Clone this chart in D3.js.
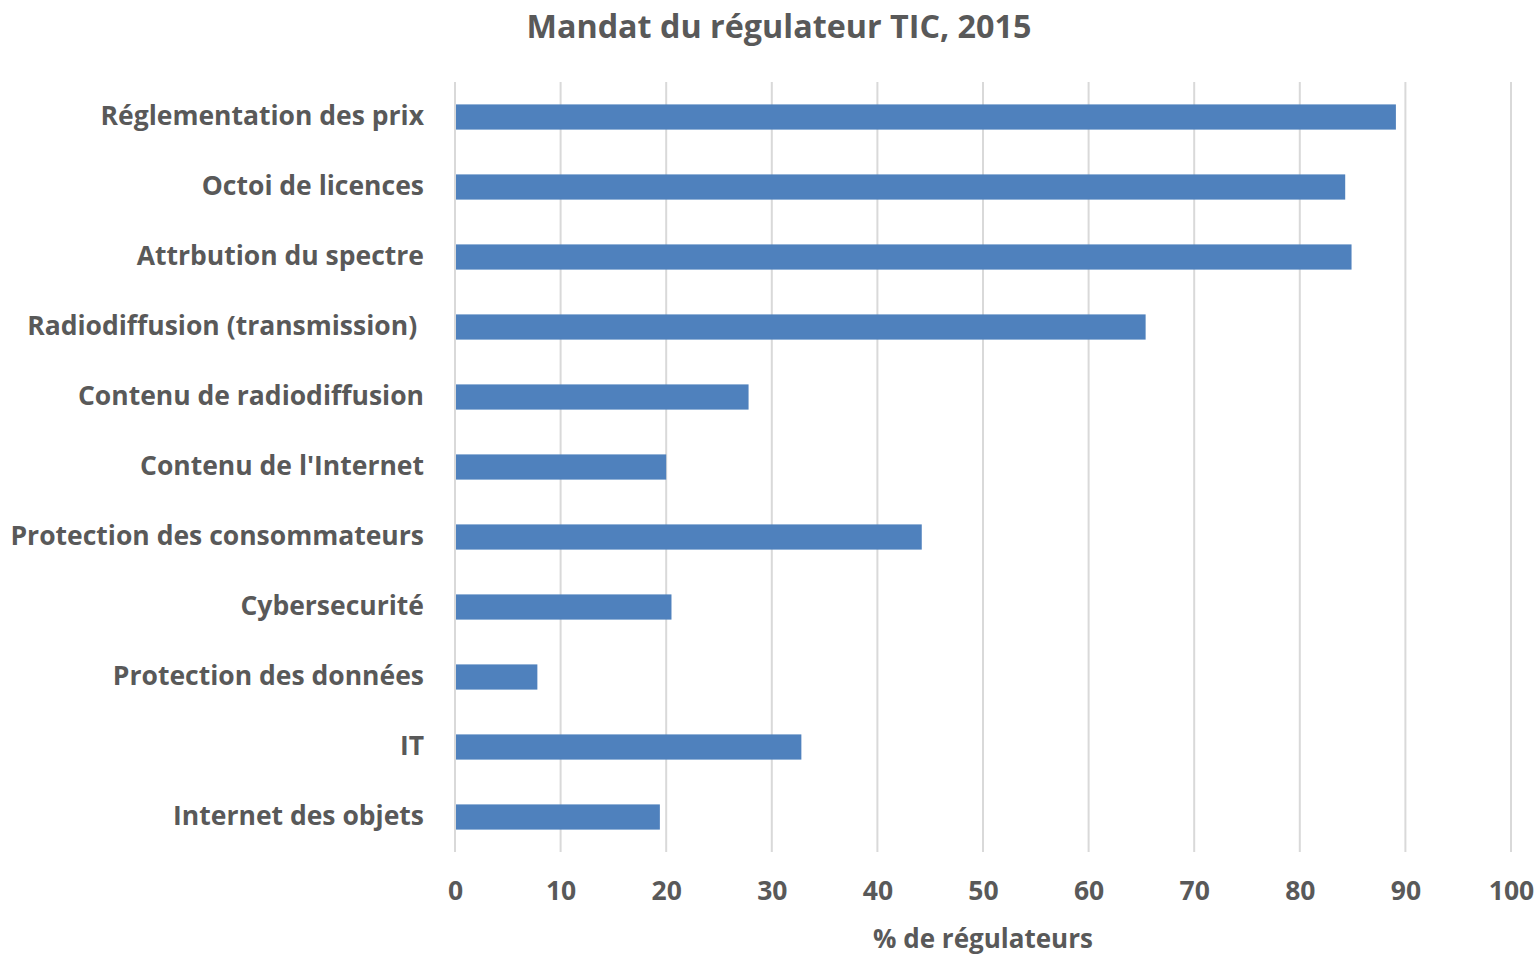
<!DOCTYPE html>
<html>
<head>
<meta charset="utf-8">
<script src="https://cdn.jsdelivr.net/npm/d3@7"></script>
<style>
  body { margin: 0; background: #fff; }
  text { font-family: "Open Sans", "Noto Sans", sans-serif; font-weight: bold; fill: #595959; white-space: pre; }
</style>
</head>
<body>
<div id="chart"></div>
<script>
// data
var categories = [
  "Réglementation des prix",
  "Octoi de licences",
  "Attrbution du spectre",
  "Radiodiffusion (transmission) ",
  "Contenu de radiodiffusion",
  "Contenu de l'Internet",
  "Protection des consommateurs",
  "Cybersecurité",
  "Protection des données",
  "IT",
  "Internet des objets"
];
var values = [89.1, 84.3, 84.9, 65.4, 27.8, 20.0, 44.2, 20.5, 7.8, 32.8, 19.4];
var xTicks = [0, 10, 20, 30, 40, 50, 60, 70, 80, 90, 100];

var svgWidth = 1539, svgHeight = 954;
var margin = { top: 82, right: 28, bottom: 102, left: 455 };
var width = svgWidth - margin.left - margin.right;
var height = svgHeight - margin.top - margin.bottom;

var svg = d3.select("#chart").append("svg")
  .attr("width", svgWidth)
  .attr("height", svgHeight);

var chartGroup = svg.append("g")
  .attr("transform", `translate(${margin.left}, ${margin.top})`);

var x = d3.scaleLinear().domain([0, 100]).range([0, width]);
var y = d3.scaleBand().domain(categories).range([0, height]).paddingInner(0.64).paddingOuter(0.32);

// vertical gridlines
chartGroup.selectAll(".grid")
  .data(xTicks)
  .enter()
  .append("line")
  .attr("x1", d => x(d)).attr("x2", d => x(d))
  .attr("y1", 0).attr("y2", height)
  .attr("stroke", "#d9d9d9")
  .attr("stroke-width", 2);

// bars
chartGroup.selectAll(".bar")
  .data(values)
  .enter()
  .append("rect")
  .attr("x", x(0) + 1)
  .attr("y", (d, i) => y(categories[i]))
  .attr("width", d => x(d) - x(0) - 1)
  .attr("height", y.bandwidth())
  .attr("fill", "#4f81bd");

// category labels
var leftAxis = d3.axisLeft(y).tickSize(0).tickPadding(31);
var ya = chartGroup.append("g").call(leftAxis);
ya.select(".domain").remove();
ya.selectAll("text").attr("font-size", 26.5).attr("fill", "#595959")
  .style("font-family", null);

// x tick labels
var bottomAxis = d3.axisBottom(x).tickValues(xTicks).tickSize(0).tickPadding(29);
var xa = chartGroup.append("g").attr("transform", `translate(0, ${height})`).call(bottomAxis);
xa.select(".domain").remove();
xa.selectAll("text").attr("font-size", 26.5).attr("fill", "#595959")
  .style("font-family", null);

// title
svg.append("text")
  .attr("x", 779).attr("y", 38)
  .attr("text-anchor", "middle")
  .attr("font-size", 32.3)
  .text("Mandat du régulateur TIC, 2015");

// axis title
svg.append("text")
  .attr("x", margin.left + width / 2).attr("y", 948)
  .attr("text-anchor", "middle")
  .attr("font-size", 26)
  .text("% de régulateurs");
</script>
</body>
</html>
